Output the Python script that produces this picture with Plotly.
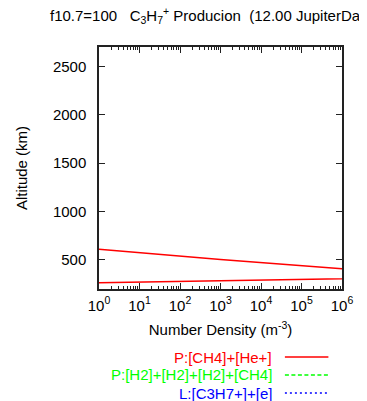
import plotly.graph_objects as go

# ---- data ----
red_density = [1, 1e3, 1e6, 3e7, 1e6, 1e3, 1]
red_altitude = [265, 283, 306, 355, 408, 505, 610]

green_density = [1e-3, 1e-3]
green_altitude = [300, 600]

blue_density = [1e-3, 1e-3]
blue_altitude = [300, 600]

series_names = ["P:[CH4]+[He+]", "P:[H2]+[H2]+[H2]+[CH4]", "L:[C3H7+]+[e]"]
series_colors = ["#ff0000", "#00ff00", "#0000ff"]
series_dash = ["solid", "4px,2.5px", "2px,3px"]

x_tickvals = [1, 10, 100, 1e3, 1e4, 1e5, 1e6]
x_ticktext = ["10<sup>%d</sup>" % i for i in range(7)]
y_tickvals = [500, 1000, 1500, 2000, 2500]

FONT = "Liberation Sans, Arial, Helvetica, sans-serif"
FS = 15
NB = "\u00a0"

fig = go.Figure()
for xs, ys, name, col, dash in zip(
    [red_density, green_density, blue_density],
    [red_altitude, green_altitude, blue_altitude],
    series_names, series_colors, series_dash,
):
    fig.add_trace(go.Scatter(x=xs, y=ys, mode="lines", name=name,
                             line=dict(color=col, width=1.5, dash=dash),
                             showlegend=False))

axis_common = dict(
    showline=True, linecolor="#222222", linewidth=1.5, mirror="allticks",
    ticks="inside", tickcolor="#222222", ticklen=6, tickwidth=1,
    showgrid=False, zeroline=False,
    tickfont=dict(family=FONT, size=FS, color="black"),
)

fig.update_xaxes(
    type="log", range=[0, 6], tickvals=x_tickvals, ticktext=x_ticktext,
    ticklabelstandoff=2,
    minor=dict(ticks="inside", ticklen=3, dtick="D1", tickcolor="#222222", showgrid=False),
    title=dict(text="Number Density (m<sup>-3</sup>)", font=dict(family=FONT, size=FS, color="black"), standoff=12),
    **axis_common,
)
fig.update_yaxes(
    range=[200, 2700], tickvals=y_tickvals,
    ticklabelstandoff=8,
    title=dict(text="Altitude (km)", font=dict(family=FONT, size=FS, color="black"), standoff=22),
    **axis_common,
)

# manual legend (text, then line sample on its right)
leg_y = [-0.281, -0.355, -0.43]
for name, col, dash, yy in zip(series_names, series_colors, series_dash, leg_y):
    fig.add_annotation(xref="paper", yref="paper", x=0.72, y=yy, xanchor="right", yanchor="middle",
                       text=name, showarrow=False, font=dict(family=FONT, size=FS, color=col))
    fig.add_shape(type="line", xref="paper", yref="paper", x0=0.765, x1=0.944, y0=yy, y1=yy,
                  line=dict(color=col, width=1.5, dash=dash))

title_text = ("f10.7=100" + NB * 3 + "C<sub>3</sub>H<sub>7</sub><sup>+</sup> Producion" + NB * 2
              + "(12.00 JupiterDays)")
fig.add_annotation(xref="paper", yref="paper", x=-0.21, y=1.13, xanchor="left", yanchor="middle",
                   text=title_text, showarrow=False, font=dict(family=FONT, size=FS, color="black"))

fig.update_layout(
    width=359, height=393,
    margin=dict(l=83, r=25, t=39, b=112),
    plot_bgcolor="white", paper_bgcolor="white",
    showlegend=False,
)

fig.write_html("out.html")
